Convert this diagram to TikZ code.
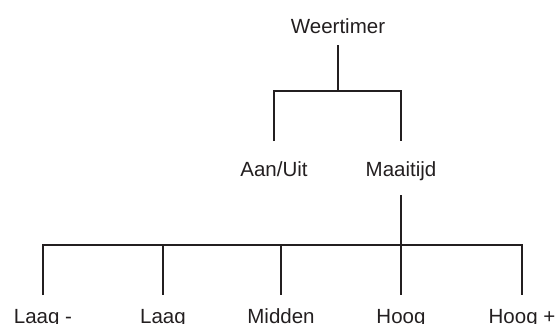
\documentclass[tikz,border=0pt]{standalone}
\usepackage{fontspec}
\setmainfont{Liberation Sans}
\definecolor{ink}{HTML}{231F20}
\begin{document}
\begin{tikzpicture}[x=1pt,y=-1pt,
  lbl/.style={anchor=base,inner sep=0pt,text=ink,font=\fontsize{20.5}{24}\selectfont},
  conn/.style={draw=ink,line width=2.4pt}]
\useasboundingbox (0,0) rectangle (557,324);
\node[lbl] (w) at (338,33) {Weertimer};
\node[lbl] (a) at (274,176) {Aan/Uit};
\node[lbl] (m) at (401,176) {Maaitijd};
\node[lbl] (b1) at (43,323) {Laag -};
\node[lbl] (b2) at (163,323) {Laag};
\node[lbl] (b3) at (281,323) {Midden};
\node[lbl] (b4) at (401,323) {Hoog};
\node[lbl] (b5) at (522,323) {Hoog +};
\coordinate (j1) at (338,91);
\coordinate (j2) at (401,245);
% top level
\draw[conn] ([yshift=-12pt]w.base) -- (j1);
\draw[conn] ([yshift=35pt]a.base) -- (a.base |- j1) -- (m.base |- j1) -- ([yshift=35pt]m.base);
% second level
\draw[conn] ([yshift=-19pt]m.base) -- (j2);
\draw[conn] ([yshift=28pt]b1.base) -- (b1.base |- j2) -- (b5.base |- j2) -- ([yshift=28pt]b5.base);
\foreach \n in {b2,b3,b4}
  \draw[conn] (\n.base |- j2) -- ([yshift=28pt]\n.base);
\end{tikzpicture}
\end{document}
